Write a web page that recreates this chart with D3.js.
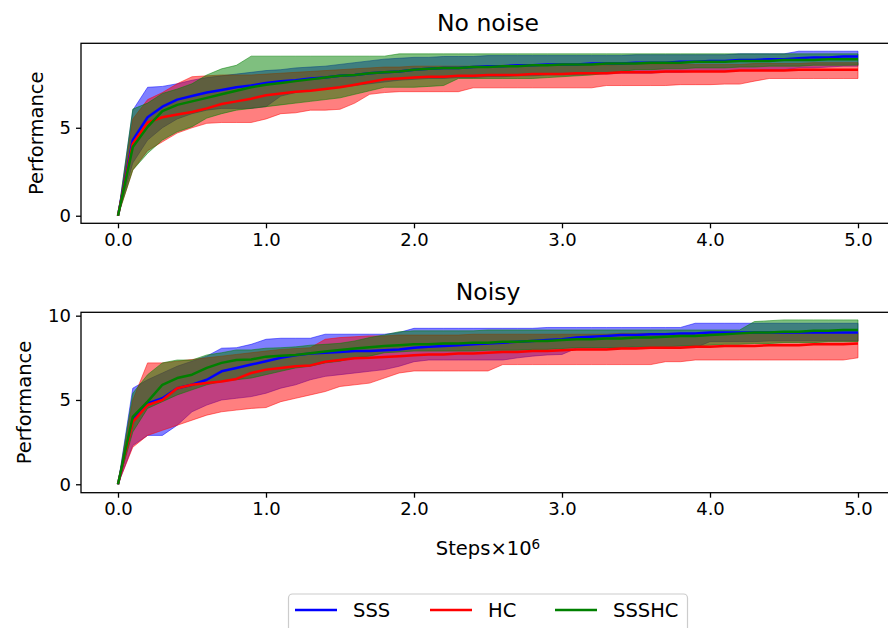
<!DOCTYPE html>
<html>
<head>
<meta charset="utf-8">
<script src="https://cdn.jsdelivr.net/npm/d3@7"></script>
<style>
  body { margin: 0; background: #fff; }
  text { font-family: "DejaVu Sans", sans-serif; fill: #000; }
</style>
</head>
<body>
<div id="chart"></div>
<script>
// Training steps (x 10^6)
var steps = [0.0, 0.1, 0.2, 0.3, 0.4, 0.5, 0.6, 0.7, 0.8, 0.9, 1.0,
  1.1, 1.2, 1.3, 1.4, 1.5, 1.6, 1.7, 1.8, 1.9, 2.0,
  2.1, 2.2, 2.3, 2.4, 2.5, 2.6, 2.7, 2.8, 2.9, 3.0,
  3.1, 3.2, 3.3, 3.4, 3.5, 3.6, 3.7, 3.8, 3.9, 4.0,
  4.1, 4.2, 4.3, 4.4, 4.5, 4.6, 4.7, 4.8, 4.9, 5.0];

var series_Names = ["SSS", "HC", "SSSHC"];
var series_Colors = ["#0000ff", "#ff0000", "#008000"];
var panel_Titles = ["No noise", "Noisy"];
var x_Ticks = [0, 1, 2, 3, 4, 5];
var y_Ticks_Top = [0, 5];
var y_Ticks_Bottom = [0, 5, 10];

// ---- No noise ----
var sss_Mean_A = [0, 4.3, 5.6, 6.2, 6.6, 6.8, 7.0, 7.15, 7.3, 7.4, 7.55, 7.65, 7.7, 7.8, 7.85, 7.95, 8.0, 8.1, 8.15, 8.2, 8.3, 8.35, 8.4, 8.4, 8.45, 8.5, 8.5, 8.55, 8.55, 8.6, 8.6, 8.6, 8.65, 8.65, 8.65, 8.7, 8.7, 8.7, 8.75, 8.75, 8.8, 8.8, 8.85, 8.85, 8.9, 8.9, 8.95, 9.0, 9.0, 9.05, 9.05];
var sss_Low_A = [0, 3.0, 4.3, 5.0, 5.5, 5.8, 6.0, 6.1, 6.1, 6.1, 6.2, 6.8, 7.0, 7.1, 7.2, 7.3, 7.4, 7.5, 7.6, 7.7, 7.75, 7.8, 7.8, 7.85, 7.85, 7.9, 7.9, 7.95, 7.95, 8.0, 8.0, 8.0, 8.05, 8.05, 8.1, 8.1, 8.1, 8.15, 8.15, 8.2, 8.2, 8.2, 8.25, 8.25, 8.3, 8.3, 8.4, 8.4, 8.45, 8.5, 8.5];
var sss_High_A = [0, 6.0, 7.3, 7.35, 7.5, 7.7, 7.85, 7.95, 8.05, 8.15, 8.25, 8.3, 8.4, 8.45, 8.5, 8.6, 8.7, 8.8, 8.9, 8.95, 9.0, 9.0, 9.05, 9.05, 9.05, 9.1, 9.1, 9.1, 9.1, 9.1, 9.1, 9.1, 9.1, 9.1, 9.1, 9.15, 9.15, 9.15, 9.15, 9.15, 9.15, 9.15, 9.2, 9.2, 9.2, 9.2, 9.35, 9.35, 9.35, 9.35, 9.35];

var hc_Mean_A = [0, 4.1, 5.3, 5.6, 5.75, 5.9, 6.1, 6.35, 6.5, 6.65, 6.85, 6.95, 7.05, 7.1, 7.2, 7.3, 7.45, 7.6, 7.75, 7.8, 7.85, 7.9, 7.9, 7.95, 7.95, 8.0, 8.0, 8.0, 8.05, 8.05, 8.05, 8.1, 8.1, 8.1, 8.15, 8.15, 8.15, 8.2, 8.2, 8.2, 8.2, 8.2, 8.25, 8.25, 8.25, 8.25, 8.3, 8.3, 8.3, 8.3, 8.3];
var hc_Low_A = [0, 2.6, 3.7, 4.2, 4.7, 5.0, 5.25, 5.3, 5.3, 5.3, 5.5, 5.8, 5.85, 6.0, 6.0, 6.05, 6.4, 6.9, 7.0, 7.05, 7.05, 7.05, 7.05, 7.05, 7.27, 7.27, 7.27, 7.27, 7.27, 7.27, 7.27, 7.27, 7.27, 7.4, 7.4, 7.4, 7.4, 7.4, 7.45, 7.45, 7.45, 7.48, 7.48, 7.65, 7.8, 7.8, 7.8, 7.8, 7.8, 7.8, 7.8];
var hc_High_A = [0, 5.5, 6.6, 7.0, 7.5, 7.9, 7.95, 8.0, 8.0, 8.0, 8.05, 8.1, 8.15, 8.2, 8.25, 8.3, 8.35, 8.4, 8.45, 8.45, 8.5, 8.5, 8.5, 8.5, 8.5, 8.5, 8.55, 8.55, 8.55, 8.55, 8.55, 8.55, 8.55, 8.55, 8.6, 8.6, 8.6, 8.6, 8.6, 8.6, 8.6, 8.6, 8.6, 8.65, 8.65, 8.65, 8.65, 8.7, 8.7, 8.7, 8.7];

var sssHC_Mean_A = [0, 3.9, 5.05, 5.95, 6.3, 6.5, 6.7, 6.9, 7.1, 7.3, 7.45, 7.55, 7.65, 7.75, 7.85, 7.95, 8.0, 8.1, 8.15, 8.2, 8.3, 8.35, 8.4, 8.4, 8.45, 8.45, 8.5, 8.5, 8.55, 8.55, 8.6, 8.6, 8.6, 8.65, 8.65, 8.65, 8.7, 8.7, 8.7, 8.75, 8.75, 8.75, 8.8, 8.8, 8.8, 8.85, 8.85, 8.85, 8.9, 8.9, 8.9];
var sssHC_Low_A = [0, 2.6, 3.55, 4.3, 4.77, 5.06, 5.55, 5.8, 6.0, 6.1, 6.2, 6.3, 6.4, 6.5, 6.6, 6.7, 6.9, 7.1, 7.3, 7.3, 7.3, 7.35, 7.4, 7.8, 7.8, 7.8, 7.8, 7.8, 7.8, 7.85, 7.9, 7.95, 8.0, 8.1, 8.2, 8.3, 8.3, 8.35, 8.35, 8.4, 8.4, 8.4, 8.45, 8.45, 8.5, 8.5, 8.5, 8.55, 8.55, 8.55, 8.56];
var sssHC_High_A = [0, 6.06, 6.4, 6.95, 7.2, 7.5, 8.0, 8.35, 8.55, 9.07, 9.07, 9.07, 9.07, 9.07, 9.07, 9.07, 9.07, 9.07, 9.07, 9.2, 9.2, 9.2, 9.2, 9.2, 9.2, 9.2, 9.2, 9.2, 9.2, 9.2, 9.2, 9.2, 9.2, 9.2, 9.2, 9.2, 9.2, 9.2, 9.2, 9.2, 9.2, 9.2, 9.2, 9.2, 9.2, 9.2, 9.2, 9.2, 9.2, 9.2, 9.2];

// ---- Noisy ----
var sss_Mean_B = [0, 3.8, 4.8, 5.1, 5.7, 5.9, 6.2, 6.7, 6.9, 7.1, 7.3, 7.5, 7.65, 7.75, 7.8, 7.85, 7.9, 7.9, 7.95, 8.0, 8.1, 8.15, 8.2, 8.25, 8.3, 8.35, 8.4, 8.45, 8.5, 8.55, 8.6, 8.7, 8.75, 8.8, 8.85, 8.85, 8.9, 8.9, 8.95, 8.95, 9.0, 9.0, 9.0, 9.0, 9.0, 9.0, 9.0, 9.0, 9.0, 9.0, 9.0];
var sss_Low_B = [0, 2.3, 2.9, 2.9, 3.5, 4.3, 4.7, 5.0, 5.1, 5.2, 5.4, 5.7, 5.9, 6.2, 6.4, 6.5, 6.6, 6.7, 6.8, 7.0, 7.27, 7.37, 7.37, 7.37, 7.37, 7.37, 7.37, 7.5, 7.6, 7.67, 7.7, 8.07, 8.07, 8.07, 8.07, 8.1, 8.1, 8.1, 8.1, 8.1, 8.46, 8.46, 8.46, 8.46, 8.5, 8.5, 8.5, 8.5, 8.5, 8.5, 8.5];
var sss_High_B = [0, 5.7, 6.2, 6.6, 7.0, 7.3, 7.6, 8.07, 8.1, 8.3, 8.6, 8.66, 8.66, 8.66, 8.9, 8.9, 8.9, 8.9, 8.9, 9.0, 9.25, 9.25, 9.25, 9.25, 9.25, 9.25, 9.25, 9.25, 9.25, 9.3, 9.3, 9.3, 9.3, 9.3, 9.3, 9.3, 9.3, 9.3, 9.3, 9.55, 9.55, 9.55, 9.55, 9.55, 9.55, 9.55, 9.55, 9.55, 9.55, 9.55, 9.55];

var hc_Mean_B = [0, 3.7, 4.7, 5.0, 5.7, 5.9, 6.0, 6.1, 6.25, 6.6, 6.8, 6.9, 7.0, 7.05, 7.27, 7.37, 7.47, 7.5, 7.55, 7.6, 7.65, 7.7, 7.7, 7.75, 7.75, 7.8, 7.85, 7.85, 7.9, 7.9, 7.95, 8.0, 8.0, 8.0, 8.05, 8.05, 8.1, 8.1, 8.1, 8.15, 8.15, 8.2, 8.2, 8.2, 8.25, 8.25, 8.25, 8.3, 8.3, 8.3, 8.35];
var hc_Low_B = [0, 2.2, 2.9, 3.2, 3.5, 3.8, 4.1, 4.3, 4.4, 4.5, 4.55, 4.9, 5.1, 5.3, 5.5, 5.8, 5.9, 6.0, 6.3, 6.6, 6.72, 6.72, 6.72, 6.72, 6.72, 6.72, 7.1, 7.1, 7.1, 7.1, 7.1, 7.1, 7.1, 7.1, 7.1, 7.1, 7.1, 7.27, 7.27, 7.37, 7.37, 7.37, 7.37, 7.37, 7.37, 7.37, 7.37, 7.37, 7.37, 7.37, 7.5];
var hc_High_B = [0, 5.0, 7.2, 7.2, 7.3, 7.4, 7.5, 7.6, 7.7, 7.8, 7.9, 8.0, 8.05, 8.1, 8.6, 8.7, 8.75, 8.8, 8.8, 8.85, 8.85, 8.85, 8.85, 8.85, 8.9, 8.9, 8.9, 8.9, 8.9, 8.9, 8.9, 8.9, 8.9, 8.9, 8.95, 8.95, 8.95, 8.95, 8.95, 8.95, 8.95, 8.95, 8.95, 8.95, 9.0, 9.0, 9.0, 9.0, 9.0, 9.0, 9.0];

var sssHC_Mean_B = [0, 4.0, 4.9, 5.9, 6.3, 6.5, 6.9, 7.2, 7.37, 7.4, 7.57, 7.62, 7.67, 7.77, 7.87, 7.97, 8.05, 8.12, 8.2, 8.25, 8.3, 8.3, 8.35, 8.35, 8.4, 8.4, 8.45, 8.45, 8.5, 8.5, 8.55, 8.6, 8.6, 8.65, 8.65, 8.7, 8.7, 8.75, 8.8, 8.8, 8.85, 8.9, 8.95, 9.0, 9.0, 9.05, 9.05, 9.1, 9.1, 9.15, 9.15];
var sssHC_Low_B = [0, 3.1, 4.5, 4.9, 5.3, 5.6, 5.9, 6.1, 6.2, 6.3, 6.5, 6.7, 6.9, 7.0, 7.2, 7.3, 7.5, 7.6, 7.8, 7.85, 7.9, 7.9, 7.9, 7.9, 7.9, 7.95, 7.95, 7.95, 8.0, 8.0, 8.05, 8.1, 8.1, 8.1, 8.1, 8.15, 8.15, 8.15, 8.2, 8.2, 8.25, 8.3, 8.3, 8.35, 8.35, 8.4, 8.4, 8.4, 8.45, 8.45, 8.46];
var sssHC_High_B = [0, 5.4, 6.5, 7.2, 7.37, 7.37, 7.67, 7.8, 7.97, 7.97, 8.07, 8.1, 8.15, 8.25, 8.3, 8.36, 8.5, 8.7, 8.86, 9.05, 9.1, 9.1, 9.1, 9.1, 9.1, 9.15, 9.15, 9.15, 9.15, 9.15, 9.15, 9.15, 9.15, 9.15, 9.15, 9.15, 9.15, 9.15, 9.15, 9.15, 9.15, 9.15, 9.15, 9.65, 9.7, 9.75, 9.75, 9.75, 9.75, 9.75, 9.75];

// Define SVG area dimensions
var svg_Width = 888;
var svg_Height = 628;

var svg = d3.select("#chart")
  .append("svg")
  .attr("width", svg_Width)
  .attr("height", svg_Height);

svg.append("rect")
  .attr("width", svg_Width)
  .attr("height", svg_Height)
  .attr("fill", "#fff");

// x scale shared by both panels (matplotlib 5% margins)
var x_Scale = d3.scaleLinear()
  .domain([-0.25, 5.25])
  .range([81, 895]);

var panels = [
  {
    title: panel_Titles[0], top: 43.3, bottom: 223.3, domain: [-0.43, 9.8], ticks: y_Ticks_Top, labelX: 36,
    series: [
      [sss_Mean_A, sss_Low_A, sss_High_A],
      [hc_Mean_A, hc_Low_A, hc_High_A],
      [sssHC_Mean_A, sssHC_Low_A, sssHC_High_A]
    ]
  },
  {
    title: panel_Titles[1], top: 312.3, bottom: 492.7, domain: [-0.5, 10.2], ticks: y_Ticks_Bottom, labelX: 24,
    series: [
      [sss_Mean_B, sss_Low_B, sss_High_B],
      [hc_Mean_B, hc_Low_B, hc_High_B],
      [sssHC_Mean_B, sssHC_Low_B, sssHC_High_B]
    ]
  }
];

var tick_Font = 18;
var label_Font = 19.5;

panels.forEach(function(p) {
  var y_Scale = d3.scaleLinear()
    .domain(p.domain)
    .range([p.bottom, p.top]);

  var g = svg.append("g");

  // Shaded min/max bands first (below every line)
  p.series.forEach(function(s, i) {
    var rows = steps.map(function(st, k) { return { x: st, lo: s[1][k], hi: s[2][k] }; });
    var area = d3.area()
      .x(d => x_Scale(d.x))
      .y0(d => y_Scale(d.lo))
      .y1(d => y_Scale(d.hi));
    g.append("path")
      .datum(rows)
      .attr("d", area)
      .attr("fill", series_Colors[i])
      .attr("fill-opacity", 0.5)
      .attr("stroke", series_Colors[i])
      .attr("stroke-opacity", 0.5)
      .attr("stroke-width", 1);
  });

  // Mean lines
  p.series.forEach(function(s, i) {
    var rows = steps.map(function(st, k) { return { x: st, y: s[0][k] }; });
    var line = d3.line()
      .x(d => x_Scale(d.x))
      .y(d => y_Scale(d.y));
    g.append("path")
      .datum(rows)
      .attr("d", line)
      .attr("fill", "none")
      .attr("stroke", series_Colors[i])
      .attr("stroke-width", 2.5)
      .attr("stroke-linejoin", "round");
  });

  // Frame
  g.append("rect")
    .attr("x", 81)
    .attr("y", p.top)
    .attr("width", 895 - 81)
    .attr("height", p.bottom - p.top)
    .attr("fill", "none")
    .attr("stroke", "#000")
    .attr("stroke-width", 1.3);

  // Axes
  var bottom_Axis = d3.axisBottom(x_Scale)
    .tickValues(x_Ticks)
    .tickFormat(d3.format(".1f"))
    .tickSize(5)
    .tickPadding(5);
  var left_Axis = d3.axisLeft(y_Scale)
    .tickValues(p.ticks)
    .tickFormat(d3.format("d"))
    .tickSize(5)
    .tickPadding(5);

  var xg = g.append("g")
    .attr("transform", `translate(0, ${p.bottom})`)
    .call(bottom_Axis);
  var yg = g.append("g")
    .attr("transform", "translate(81, 0)")
    .call(left_Axis);

  [xg, yg].forEach(function(a) {
    a.select(".domain").remove();
    a.selectAll("line").attr("stroke", "#000").attr("stroke-width", 1.3);
    a.selectAll("text")
      .attr("font-family", "DejaVu Sans")
      .attr("font-size", tick_Font)
      .attr("fill", "#000");
  });

  // Title
  g.append("text")
    .attr("x", 488)
    .attr("y", p.top - 12)
    .attr("text-anchor", "middle")
    .attr("font-size", 23.5)
    .text(p.title);

  // y label
  g.append("text")
    .attr("transform", `translate(${p.labelX}, ${(p.top + p.bottom) / 2}) rotate(-90)`)
    .attr("text-anchor", "middle")
    .attr("dy", "0.35em")
    .attr("font-size", label_Font)
    .text("Performance");
});

// x label
var x_Label = svg.append("text")
  .attr("x", 488)
  .attr("y", 555)
  .attr("text-anchor", "middle")
  .attr("font-size", label_Font);
x_Label.append("tspan").text("Steps×10");
x_Label.append("tspan")
  .attr("dy", "-0.45em")
  .attr("font-size", 13.5)
  .text("6");

// Legend
var legend = svg.append("g");
legend.append("rect")
  .attr("x", 288.5)
  .attr("y", 594)
  .attr("width", 399)
  .attr("height", 45)
  .attr("rx", 4)
  .attr("fill", "#fff")
  .attr("stroke", "#cccccc")
  .attr("stroke-width", 1.2);

var legend_X = [295, 430, 555];
series_Names.forEach(function(name, i) {
  legend.append("line")
    .attr("x1", legend_X[i])
    .attr("x2", legend_X[i] + 42)
    .attr("y1", 610)
    .attr("y2", 610)
    .attr("stroke", series_Colors[i])
    .attr("stroke-width", 2.5);
  legend.append("text")
    .attr("x", legend_X[i] + 58)
    .attr("y", 610)
    .attr("dy", "0.35em")
    .attr("font-size", label_Font)
    .text(name);
});
</script>
</body>
</html>
